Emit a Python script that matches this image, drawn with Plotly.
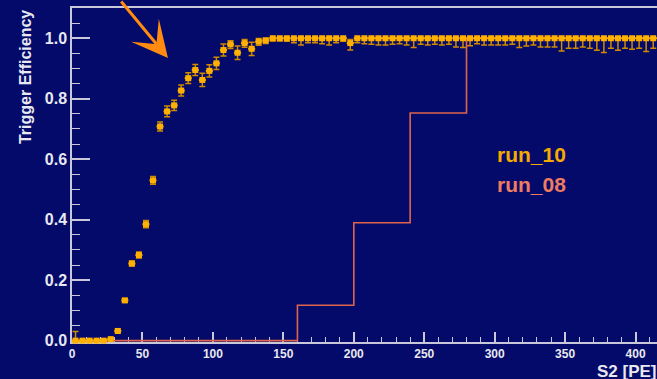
import plotly.graph_objects as go

# ---------------- data ----------------
# run_10 : trigger efficiency per 5 PE bin (bin centres)
run10_x = [2.5, 7.5, 12.5, 17.5, 22.5, 27.5, 32.5, 37.5, 42.5, 47.5,
           52.5, 57.5, 62.5, 67.5, 72.5, 77.5, 82.5, 87.5, 92.5, 97.5,
           102.5, 107.5, 112.5, 117.5, 122.5, 127.5, 132.5, 137.5,
           142.5, 147.5, 152.5, 157.5, 162.5, 167.5, 172.5, 177.5, 182.5, 187.5,
           192.5, 197.5, 202.5, 207.5, 212.5, 217.5, 222.5, 227.5, 232.5, 237.5,
           242.5, 247.5, 252.5, 257.5, 262.5, 267.5, 272.5, 277.5, 282.5, 287.5,
           292.5, 297.5, 302.5, 307.5, 312.5, 317.5, 322.5, 327.5, 332.5, 337.5,
           342.5, 347.5, 352.5, 357.5, 362.5, 367.5, 372.5, 377.5, 382.5, 387.5,
           392.5, 397.5, 402.5, 407.5, 412.5]
run10_y = [0.0, 0.0, 0.0, 0.0, 0.0, 0.005, 0.032, 0.133, 0.255, 0.283,
           0.385, 0.530, 0.708, 0.758, 0.778, 0.827, 0.868, 0.895, 0.862, 0.892,
           0.917, 0.961, 0.980, 0.952, 0.984, 0.965, 0.989, 0.993,
           1.0, 1.0, 1.0, 1.0, 1.0, 1.0, 1.0, 1.0, 1.0, 1.0,
           1.0, 0.984, 1.0, 1.0, 1.0, 1.0, 1.0, 1.0, 1.0, 1.0,
           1.0, 1.0, 1.0, 1.0, 1.0, 1.0, 1.0, 1.0, 1.0, 1.0,
           1.0, 1.0, 1.0, 1.0, 1.0, 1.0, 1.0, 1.0, 1.0, 1.0,
           1.0, 1.0, 1.0, 1.0, 1.0, 1.0, 1.0, 1.0, 1.0, 1.0,
           1.0, 1.0, 1.0, 1.0, 1.0]
run10_err_up = [0.030, 0.003, 0.003, 0.003, 0.003, 0.003, 0.006, 0.006, 0.008, 0.010,
                0.012, 0.013, 0.015, 0.018, 0.017, 0.018, 0.018, 0.018, 0.022, 0.020,
                0.020, 0.020, 0.012, 0.022, 0.012, 0.022, 0.010, 0.007,
                0.0, 0.0, 0.0, 0.0, 0.0, 0.0, 0.0, 0.0, 0.0, 0.0,
                0.0, 0.012, 0.0, 0.0, 0.0, 0.0, 0.0, 0.0, 0.0, 0.0,
                0.0, 0.0, 0.0, 0.0, 0.0, 0.0, 0.0, 0.0, 0.0, 0.0,
                0.0, 0.0, 0.0, 0.0, 0.0, 0.0, 0.0, 0.0, 0.0, 0.0,
                0.0, 0.0, 0.0, 0.0, 0.0, 0.0, 0.0, 0.0, 0.0, 0.0,
                0.0, 0.0, 0.0, 0.0, 0.0]
run10_err_down = [0.0, 0.0, 0.0, 0.0, 0.0, 0.003, 0.006, 0.006, 0.008, 0.010,
                  0.012, 0.013, 0.015, 0.018, 0.017, 0.018, 0.018, 0.018, 0.022, 0.020,
                  0.020, 0.020, 0.014, 0.022, 0.014, 0.022, 0.012, 0.010,
                  0.009, 0.009, 0.010, 0.015, 0.022, 0.015, 0.015, 0.018, 0.022, 0.015,
                  0.010, 0.023, 0.015, 0.018, 0.020, 0.022, 0.022, 0.020, 0.018, 0.022,
                  0.031, 0.020, 0.022, 0.020, 0.022, 0.020, 0.029, 0.031, 0.025, 0.018,
                  0.022, 0.022, 0.022, 0.022, 0.020, 0.031, 0.026, 0.022, 0.029, 0.029,
                  0.029, 0.042, 0.033, 0.033, 0.029, 0.033, 0.040, 0.047, 0.033, 0.040,
                  0.033, 0.036, 0.033, 0.044, 0.033]

# run_08 : histogram with 40 PE bins (bin edges and contents)
run08_edges = [0, 40, 80, 120, 160, 200, 240, 280, 320, 360, 400, 440]
run08_vals = [0.0, 0.0, 0.0, 0.0, 0.117, 0.390, 0.753, 1.0, 1.0, 1.0, 1.0]

# ---------------- style ----------------
BG = "#030a6a"
AXC = "#c8c8da"
ORANGE = "#ffb000"
ERRC = "#d08a00"
RED = "#e0644c"
TXT = "#e8e8f0"
FONT = "Liberation Sans, Arial, sans-serif"

fig = go.Figure()

fig.add_trace(go.Scatter(
    x=run08_edges,
    y=run08_vals + [run08_vals[-1]],
    mode="lines",
    line=dict(color=RED, width=1.6, shape="hv"),
    showlegend=False,
    hoverinfo="skip",
))

fig.add_trace(go.Scatter(
    x=run10_x,
    y=run10_y,
    mode="markers",
    marker=dict(symbol="square", size=6, color=ORANGE, line=dict(width=0)),
    error_y=dict(type="data", symmetric=False, array=run10_err_up,
                 arrayminus=run10_err_down, color=ERRC, thickness=1.5, width=3),
    error_x=dict(type="constant", value=2.5, color=ORANGE, thickness=2, width=0),
    cliponaxis=False,
    showlegend=False,
))

fig.update_layout(
    width=657, height=379,
    margin=dict(l=72, r=0, t=8, b=37),
    paper_bgcolor=BG,
    plot_bgcolor=BG,
    font=dict(family=FONT, color=TXT),
    xaxis=dict(
        range=[0, 415.2], showgrid=False, zeroline=False,
        showline=True, linecolor=AXC, linewidth=1.5, mirror=True,
        ticks="inside", ticklen=10, tickwidth=1.5, tickcolor=AXC,
        dtick=50, tick0=0,
        minor=dict(ticks="inside", ticklen=5, tickwidth=1.2, tickcolor=AXC, dtick=10),
        tickfont=dict(size=12, color=TXT, family=FONT, weight="bold"),
        layer="below traces",
    ),
    yaxis=dict(
        range=[-0.0045, 1.1], showgrid=False, zeroline=False,
        showline=True, linecolor=AXC, linewidth=1.5, mirror=False,
        ticks="inside", ticklen=18, tickwidth=1.5, tickcolor=AXC,
        dtick=0.2, tick0=0, tickformat=".1f",
        minor=dict(ticks="inside", ticklen=8, tickwidth=1.2, tickcolor=AXC, dtick=0.05),
        tickfont=dict(size=16, color=TXT, family=FONT, weight="bold"),
        layer="below traces",
    ),
    annotations=[
        dict(text="Trigger Efficiency", xref="paper", yref="paper",
             x=-0.0803, y=1.0, xanchor="center", yanchor="top", textangle=-90,
             showarrow=False, font=dict(size=16, color=TXT, family=FONT, weight="bold")),
        dict(text="S2 [PE]", xref="paper", yref="paper",
             x=0.894, y=-0.088, xanchor="left", yanchor="middle",
             showarrow=False, font=dict(size=17, color=TXT, family=FONT, weight="bold")),
        dict(text="run_10", xref="paper", yref="paper",
             x=0.786, y=0.56, xanchor="center", yanchor="middle",
             showarrow=False, font=dict(size=21, color="#f5aa00", family=FONT, weight="bold")),
        dict(text="run_08", xref="paper", yref="paper",
             x=0.786, y=0.4716, xanchor="center", yanchor="middle",
             showarrow=False, font=dict(size=21, color="#f07c60", family=FONT, weight="bold")),
        dict(text="", x=68.1, y=0.935, xref="x", yref="y",
             ax=-48, ay=-66, showarrow=True, arrowhead=3, arrowsize=2.0,
             arrowwidth=3, arrowcolor="#ff8c10"),
    ],
)

fig.write_html("out.html")
